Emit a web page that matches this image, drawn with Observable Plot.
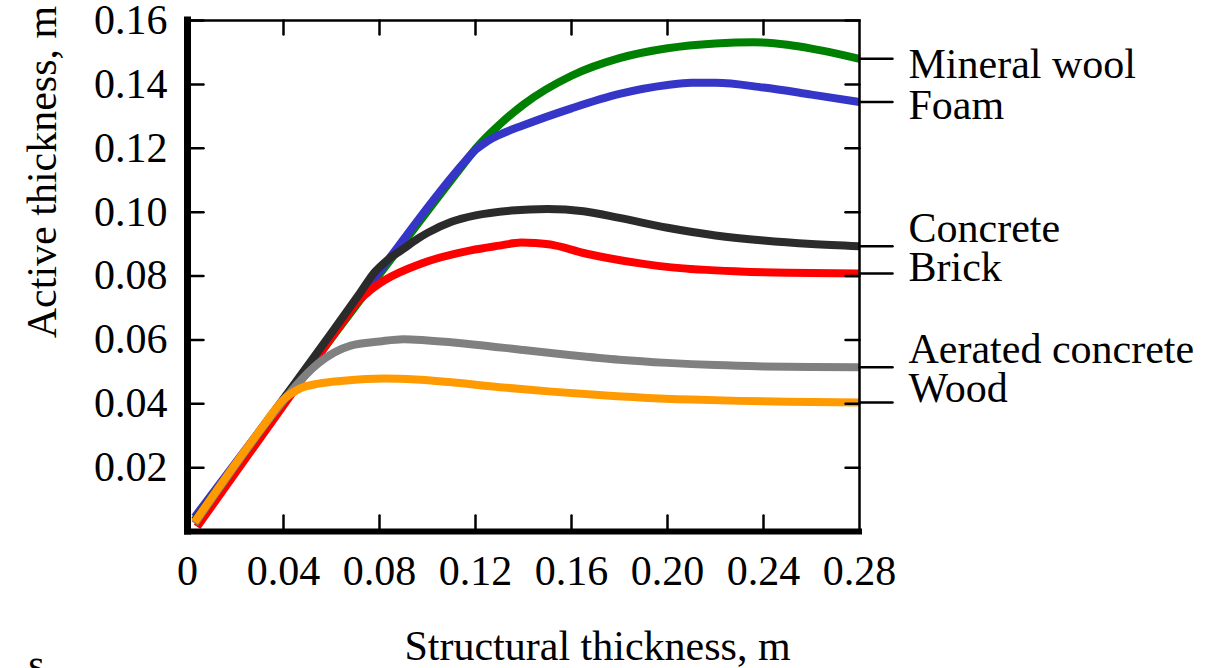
<!DOCTYPE html>
<html>
<head>
<meta charset="utf-8">
<script src="https://cdn.jsdelivr.net/npm/d3@7"></script>
<script src="https://cdn.jsdelivr.net/npm/@observablehq/plot@0.6"></script>
<style>
  html, body { margin: 0; padding: 0; background: #fff; }
  #chart svg { display: block; }
</style>
</head>
<body>
<div id="chart"></div>
<script>
// ---------- data ----------
const seriesNames = ["Mineral wool", "Foam", "Brick", "Concrete", "Aerated concrete", "Wood"];
const seriesColors = ["#008000", "#3535c8", "#ff0000", "#2b2b2b", "#808080", "#ff9a00"];

const mineralWoolX = [0.003, 0.04, 0.08, 0.115, 0.12, 0.13, 0.14, 0.16, 0.18, 0.20, 0.22, 0.236, 0.25, 0.26, 0.27, 0.28];
const mineralWoolY = [0.0035, 0.0405, 0.0805, 0.1150, 0.1198, 0.1274, 0.1337, 0.1427, 0.1482, 0.1513, 0.1528, 0.1532, 0.1524, 0.1512, 0.1497, 0.1480];

const foamX = [0.003, 0.04, 0.08, 0.116, 0.12, 0.125, 0.13, 0.14, 0.16, 0.18, 0.20, 0.21, 0.22, 0.24, 0.26, 0.28];
const foamY = [0.0045, 0.0415, 0.0815, 0.1162, 0.1195, 0.1222, 0.1242, 0.1272, 0.1325, 0.1370, 0.1398, 0.1405, 0.1405, 0.1390, 0.1368, 0.1345];

const brickX = [0.004, 0.04, 0.066, 0.07, 0.075, 0.082, 0.0975, 0.118, 0.13, 0.139, 0.145, 0.153, 0.165, 0.174, 0.19, 0.2017, 0.23, 0.25, 0.28];
const brickY = [0.0015, 0.0395, 0.0670, 0.0712, 0.0748, 0.0786, 0.0839, 0.0880, 0.0895, 0.0905, 0.0903, 0.0896, 0.0872, 0.0858, 0.0838, 0.0827, 0.0814, 0.0810, 0.0808];

const concreteX = [0.003, 0.04, 0.06, 0.072, 0.078, 0.083, 0.09, 0.096, 0.10, 0.11, 0.12, 0.135, 0.15, 0.165, 0.18, 0.20, 0.22, 0.24, 0.26, 0.28];
const concreteY = [0.0035, 0.0415, 0.0622, 0.0748, 0.0812, 0.0848, 0.0885, 0.0917, 0.0935, 0.0970, 0.0990, 0.1005, 0.1010, 0.1003, 0.0982, 0.0951, 0.0927, 0.0911, 0.0900, 0.0893];

const aeratedX = [0.003, 0.039, 0.045, 0.0546, 0.068, 0.08, 0.09, 0.10, 0.12, 0.14, 0.16, 0.18, 0.20, 0.22, 0.24, 0.26, 0.28];
const aeratedY = [0.0025, 0.0400, 0.0455, 0.0527, 0.0582, 0.0595, 0.0602, 0.0598, 0.0585, 0.0568, 0.0552, 0.0538, 0.0528, 0.0521, 0.0517, 0.0515, 0.0514];

const woodX = [0.003, 0.031, 0.0404, 0.047, 0.0546, 0.065, 0.082, 0.095, 0.11, 0.13, 0.1517, 0.17, 0.19, 0.21, 0.23, 0.25, 0.28];
const woodY = [0.003, 0.0325, 0.0416, 0.0448, 0.0463, 0.0472, 0.0479, 0.0476, 0.0467, 0.0452, 0.0438, 0.0428, 0.0419, 0.0413, 0.0409, 0.0406, 0.0404];

const xTickLabels = [0, 0.04, 0.08, 0.12, 0.16, 0.20, 0.24, 0.28];
const xInnerTicks = [0.04, 0.08, 0.12, 0.16, 0.20, 0.24];
const yTicks = [0.02, 0.04, 0.06, 0.08, 0.10, 0.12, 0.14, 0.16];

const xTitle = "Structural thickness, m";
const yTitle = "Active thickness, m";
const strayText = "s";

// ---------- build table ----------
const seriesXs = [mineralWoolX, foamX, brickX, concreteX, aeratedX, woodX];
const seriesYs = [mineralWoolY, foamY, brickY, concreteY, aeratedY, woodY];
const rows = [];
seriesNames.forEach((name, i) => {
  seriesXs[i].forEach((x, j) => rows.push({name, x, y: seriesYs[i][j]}));
});
const ends = seriesNames.map((name, i) => ({
  name,
  x: seriesXs[i][seriesXs[i].length - 1],
  y: seriesYs[i][seriesYs[i].length - 1]
}));

// ---------- styles ----------
const FONT = "'Liberation Serif', 'Times New Roman', serif";
const FS = 42;
const labelShift = {"Mineral wool": 6, "Foam": 3.5, "Concrete": -18, "Brick": -5.5, "Aerated concrete": -17.5, "Wood": -14};
const tickShape = {draw(context, l) { context.moveTo(0, 0); context.lineTo(0, -l); }};

const labelMarks = ends.map(e =>
  Plot.text([e], {x: "x", y: "y", text: "name", dx: 49, dy: labelShift[e.name],
    textAnchor: "start", lineAnchor: "middle", fontSize: FS, fill: "black"})
);

const chart = Plot.plot({
  width: 1212,
  height: 668,
  marginLeft: 187,
  marginRight: 353,
  marginTop: 20,
  marginBottom: 137,
  style: {fontFamily: FONT, fontSize: FS + "px", background: "white", color: "black", overflow: "visible"},
  x: {domain: [0, 0.28], axis: null},
  y: {domain: [0, 0.16], axis: null},
  color: {domain: seriesNames, range: seriesColors},
  marks: [
    // data lines
    Plot.line(rows, {x: "x", y: "y", z: "name", stroke: "name", strokeWidth: 8,
      curve: "monotone-x", strokeLinecap: "butt", strokeLinejoin: "round"}),
    // frame: thin top/right, thick left/bottom
    Plot.frame({stroke: "black", strokeWidth: 2.5}),
    Plot.ruleX([0], {stroke: "black", strokeWidth: 7, strokeLinecap: "square"}),
    Plot.ruleY([0], {stroke: "black", strokeWidth: 6, strokeLinecap: "square"}),
    // inward ticks
    Plot.vector(yTicks, {y: d => d, frameAnchor: "left", length: 16, rotate: 90, anchor: "start",
      shape: tickShape, stroke: "black", strokeWidth: 2.5}),
    Plot.vector(yTicks, {y: d => d, frameAnchor: "right", length: 14, rotate: -90, anchor: "start",
      shape: tickShape, stroke: "black", strokeWidth: 2.5}),
    Plot.vector(xInnerTicks, {x: d => d, frameAnchor: "bottom", length: 16, rotate: 0, anchor: "start",
      shape: tickShape, stroke: "black", strokeWidth: 2.5}),
    Plot.vector(xInnerTicks, {x: d => d, frameAnchor: "top", length: 14, rotate: 180, anchor: "start",
      shape: tickShape, stroke: "black", strokeWidth: 2.5}),
    // tick labels
    Plot.axisY(yTicks, {anchor: "left", tickSize: 0, tickPadding: 20, tickFormat: d3.format(".2f"),
      label: null, fontSize: FS}),
    Plot.axisX(xTickLabels, {anchor: "bottom", tickSize: 0, tickPadding: 24,
      tickFormat: d => d === 0 ? "0" : d3.format(".2f")(d), label: null, fontSize: FS}),
    // leader lines to labels
    Plot.vector(ends, {x: "x", y: "y", length: 33, rotate: 90, anchor: "start",
      shape: tickShape, stroke: "black", strokeWidth: 2.5}),
    ...labelMarks,
    // axis titles
    Plot.text([xTitle], {frameAnchor: "bottom", dx: 74, dy: 115.5, text: d => d, textAnchor: "middle",
      fontSize: FS, lineAnchor: "middle", fill: "black"}),
    Plot.text([yTitle], {frameAnchor: "left", dx: -145, dy: -104, rotate: -90, text: d => d,
      textAnchor: "middle", fontSize: FS, lineAnchor: "middle", fill: "black"}),
    Plot.text([strayText], {frameAnchor: "bottom-left", dx: -151, dy: 132.6, text: d => d,
      textAnchor: "middle", fontSize: FS, lineAnchor: "middle", fill: "black"})
  ]
});

document.getElementById("chart").appendChild(chart);
</script>
</body>
</html>
